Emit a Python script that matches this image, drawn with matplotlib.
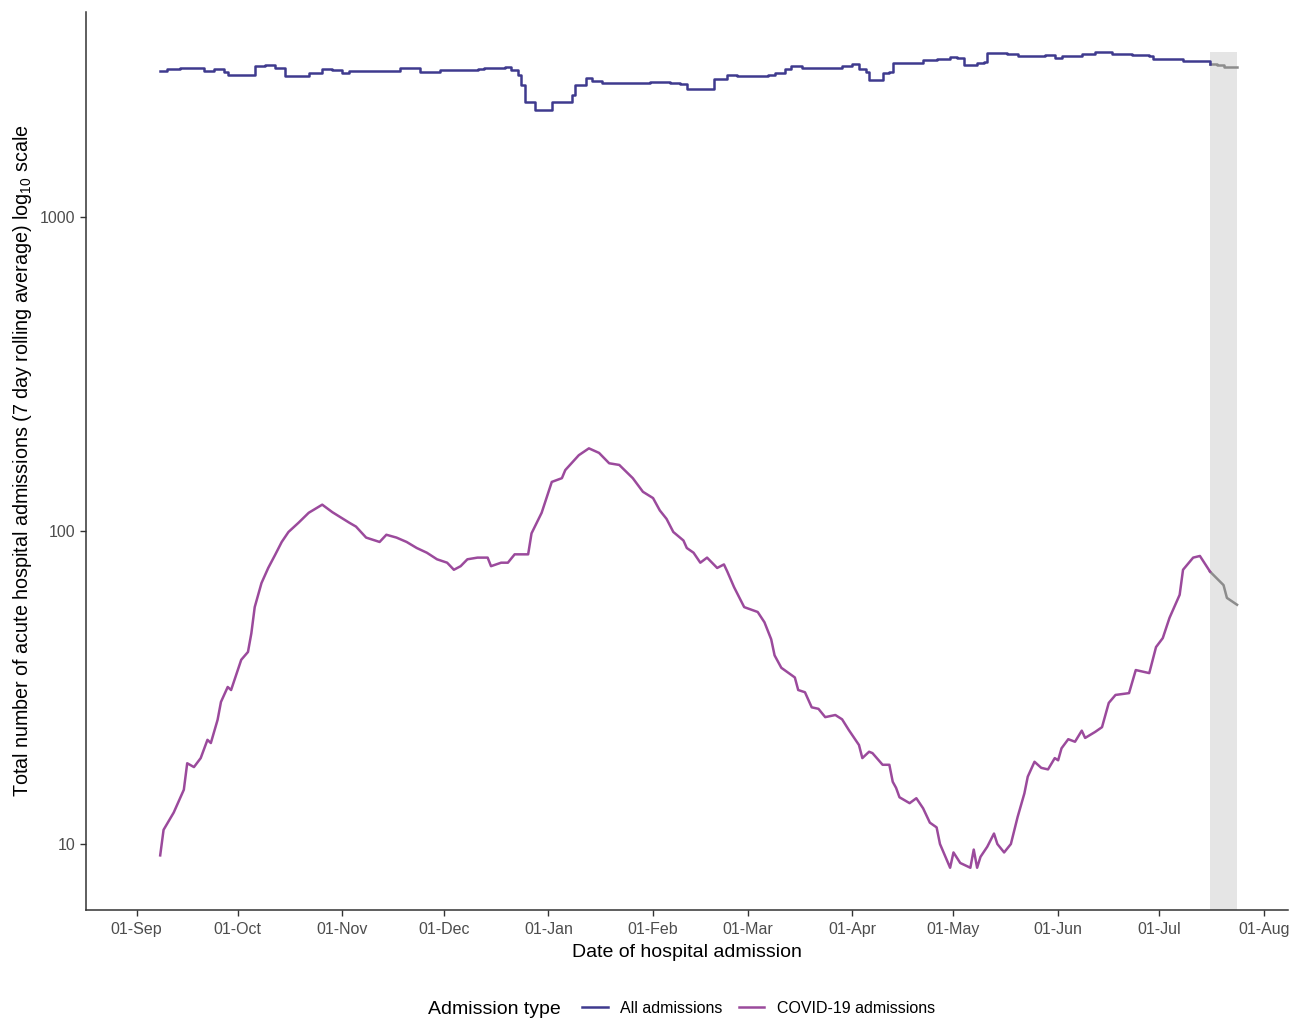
import datetime as dt
import numpy as np
import matplotlib.pyplot as plt
import matplotlib.dates as mdates

plt.rcParams["font.family"] = ["Liberation Sans", "DejaVu Sans"]
plt.rcParams["mathtext.fontset"] = "custom"
plt.rcParams["mathtext.rm"] = "Liberation Sans"
plt.rcParams["mathtext.it"] = "Liberation Sans"

START = dt.date(2020, 9, 1)

# days since 01-Sep-2020 and 7 day rolling averages
all_days = [7, 9, 13, 16, 20, 23, 26, 27, 33, 35, 38, 41, 44, 49, 51, 55, 58,
            61, 63, 76, 78, 80, 84, 88, 90, 101, 103, 109, 111, 113, 114, 115,
            117, 118, 120, 123, 128, 129, 130, 132, 133, 135, 138, 146, 152,
            158, 161, 163, 168, 171, 175, 178, 187, 189, 192, 194, 197, 206,
            209, 212, 214, 216, 217, 220, 221, 223, 224, 230, 233, 237, 241,
            243, 245, 247, 249, 251, 252, 258, 261, 269, 272, 274, 278, 280,
            284, 289, 293, 295, 300, 301, 309, 310, 314, 318]
all_vals = [2931, 2960, 2995, 2985, 2931, 2960, 2910, 2852, 2852, 3031, 3054,
            2985, 2817, 2817, 2894, 2960, 2945, 2894, 2931, 2931, 3003, 2995,
            2910, 2910, 2945, 2960, 3003, 3016, 2945, 2838, 2636, 2333, 2333,
            2194, 2204, 2333, 2333, 2449, 2636, 2648, 2790, 2723, 2682, 2682,
            2702, 2690, 2670, 2559, 2559, 2755, 2852, 2824, 2838, 2887, 2960,
            3031, 2985, 2985, 3031, 3076, 2960, 2910, 2735, 2735, 2884, 2910,
            3114, 3114, 3168, 3208, 3246, 3232, 3070, 3070, 3114, 3128, 3343,
            3327, 3268, 3285, 3223, 3263, 3263, 3327, 3368, 3327, 3327, 3303,
            3268, 3192, 3192, 3152, 3144, 3092]
all_prov_days = [318, 320, 322, 326]
all_prov_vals = [3092, 3070, 3016, 3016]

covid_days = [7, 8, 11, 14, 15, 17, 19, 21, 22, 24, 25, 27, 28, 31, 33, 34,
              35, 37, 39, 41, 43, 45, 48, 51, 55, 58, 63, 65, 68, 72, 74, 77,
              80, 83, 86, 89, 92, 94, 96, 98, 101, 104, 105, 108, 110, 112,
              116, 117, 120, 123, 126, 127, 131, 134, 137, 140, 143, 147, 150,
              153, 155, 157, 159, 162, 163, 165, 167, 169, 172, 174, 175, 177,
              180, 184, 186, 188, 189, 191, 195, 196, 198, 200, 202, 204, 207,
              209, 211, 214, 215, 217, 218, 221, 223, 224, 225, 226, 229, 231,
              233, 235, 237, 238, 241, 242, 244, 247, 248, 249, 250, 252, 254,
              255, 257, 259, 261, 263, 264, 266, 268, 270, 272, 273, 274, 276,
              278, 280, 281, 284, 286, 288, 290, 294, 296, 300, 302, 304, 306,
              309, 310, 313, 315, 318]
covid_vals = [9.2, 11.1, 12.6, 14.9, 18.1, 17.6, 18.8, 21.5, 21.0, 24.9, 28.4,
              31.7, 31.0, 38.7, 41, 47, 57, 68, 76, 83.5, 92, 99, 106, 114, 121,
              114.5, 106, 103, 95, 92, 97, 95, 92, 88, 85, 81, 79, 75, 77, 81,
              82, 82, 77, 79, 79, 84, 84, 98, 114, 143, 147, 156, 174, 183, 177,
              164, 162, 147, 133, 127, 116, 109, 99, 93, 88, 85, 79, 82, 76, 78,
              74, 66, 57, 55, 51, 45, 40, 36.5, 34, 31, 30.5, 27.3, 27, 25.4,
              25.8, 25, 23.1, 20.7, 18.8, 19.7, 19.5, 17.9, 17.9, 15.8, 15.1,
              14.1, 13.5, 14.0, 13.0, 11.7, 11.3, 10.0, 8.4, 9.4, 8.7, 8.4, 9.6,
              8.4, 9.1, 9.8, 10.8, 10.0, 9.4, 10.0, 12.2, 14.5, 16.4, 18.3,
              17.5, 17.3, 18.8, 18.5, 20.2, 21.6, 21.2, 23.0, 21.8, 22.8, 23.6,
              28.2, 29.9, 30.3, 35.9, 35.1, 42.5, 45.4, 52.7, 62.4, 75, 82, 83,
              74]
covid_prov_days = [318, 322, 323, 326]
covid_prov_vals = [74, 67, 61, 58]

tick_dates = ["2020-09-01", "2020-10-01", "2020-11-01", "2020-12-01",
              "2021-01-01", "2021-02-01", "2021-03-01", "2021-04-01",
              "2021-05-01", "2021-06-01", "2021-07-01", "2021-08-01"]


def to_dates(days):
    return [START + dt.timedelta(days=d) for d in days]


fig = plt.figure(figsize=(13.02, 10.19), dpi=100)
ax = fig.add_axes([0.066, 0.107, 0.923, 0.881])

ylow, yhigh = 6.16, 4508
ax.fill_between(to_dates([318, 326]), ylow, max(all_vals), color="#e5e5e5",
                linewidth=0, zorder=1)

# all admissions drawn as steps, as in the rolling daily series
ax.plot(to_dates(all_days), all_vals, color="#3f3a8e", linewidth=1.8,
        drawstyle="steps-post", zorder=3)
ax.plot(to_dates(covid_days), covid_vals, color="#9b4a9c", linewidth=1.8, zorder=3)
ax.plot(to_dates(all_prov_days), all_prov_vals, color="#8c8c8c", linewidth=1.8,
        drawstyle="steps-post", zorder=2)
ax.plot(to_dates(covid_prov_days), covid_prov_vals, color="#8c8c8c", linewidth=1.8, zorder=2)

ax.set_yscale("log")
ax.set_ylim(ylow, yhigh)
ax.set_yticks([10, 100, 1000])
ax.set_yticklabels(["10", "100", "1000"])
ax.yaxis.set_minor_locator(plt.NullLocator())
ax.set_xlim(dt.date(2020, 8, 17), dt.date(2021, 8, 8))
ax.set_xticks([dt.date.fromisoformat(d) for d in tick_dates])
ax.xaxis.set_major_formatter(mdates.DateFormatter("%d-%b"))

for side in ["top", "right"]:
    ax.spines[side].set_visible(False)
for side in ["left", "bottom"]:
    ax.spines[side].set_color("#333333")
    ax.spines[side].set_linewidth(1.1)
ax.tick_params(axis="both", colors="#333333", labelcolor="#4d4d4d",
               labelsize=11.5, length=4, width=1)
ax.tick_params(axis="x", pad=5)

ax.set_xlabel("Date of hospital admission", fontsize=14, labelpad=5)
ax.set_ylabel("Total number of acute hospital admissions (7 day rolling average) "
              "log$_{10}$ scale", fontsize=14.2, labelpad=4)

fig.text(0.329, 0.005, "Admission type", fontsize=14, va="baseline")
handles = [plt.Line2D([], [], color="#3f3a8e", linewidth=1.8),
           plt.Line2D([], [], color="#9b4a9c", linewidth=1.8)]
fig.legend(handles, ["All admissions", "COVID-19 admissions"], ncol=2,
           loc="lower left", bbox_to_anchor=(0.436, -0.011), frameon=False,
           fontsize=11.5, handlelength=1.6, columnspacing=1.0, handletextpad=0.8)

fig.savefig("out.png", dpi=100)
